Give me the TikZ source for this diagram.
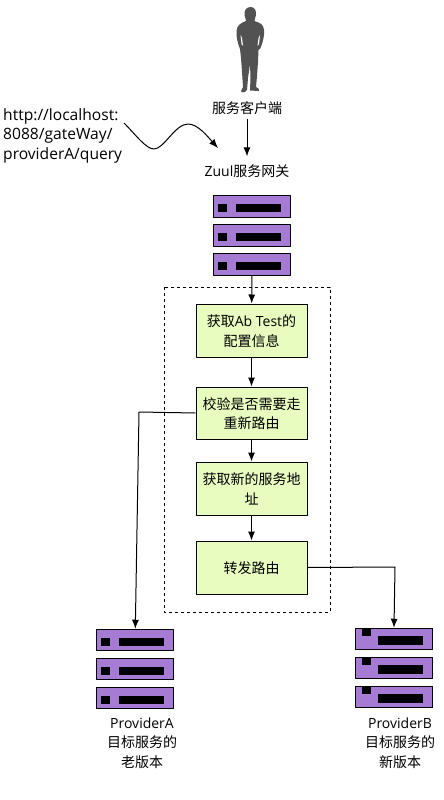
\documentclass[tikz,border=0pt]{standalone}
\usepackage{fontspec}
\setmainfont{Noto Sans CJK SC}
\newfontfamily\latinfont{Open Sans}
\usetikzlibrary{arrows.meta}
\definecolor{rackfill}{HTML}{A67BD4}
\definecolor{stepfill}{HTML}{E8FCC0}
\tikzset{
  txt/.style={align=center,inner sep=0pt,font=\fontsize{14}{19.5}\selectfont},
  stepbox/.style={draw,line width=1pt,fill=stepfill,minimum width=111pt,inner sep=0pt,align=center,text depth=0pt,font=\fontsize{14}{19.5}\selectfont},
  link/.style={-{Latex[length=9pt,width=7pt]},line width=1pt},
  rackA/.pic={
    \node[draw,line width=1pt,fill=rackfill,minimum width=77pt,minimum height=21.5pt,inner sep=0pt] (-body) at (0,0) {};
    \fill (-34,-2.5) rectangle (-25,5.5);
    \fill (-16,-2.5) rectangle (29,5.5);
  },
  rackB/.pic={
    \node[draw,line width=1pt,fill=rackfill,minimum width=77pt,minimum height=21.5pt,inner sep=0pt] (-body) at (0,0) {};
    \fill (-32,-11) rectangle (-23,-3);
    \fill (-16,-3) rectangle (29,5.5);
  },
}
\begin{document}
\begin{tikzpicture}[x=1pt,y=-1pt,line join=round]
  \useasboundingbox (0,0) rectangle (444,800);
  % person
  \fill[black!68] (250.5,7) ..controls (255,7) and (256.5,11) .. (256,15)
    ..controls (255.5,18) and (254.5,19) .. (254.5,21)
    ..controls (260,23) and (263.5,24) .. (264,30)
    ..controls (264.5,36) and (263,42) .. (260.5,48)
    -- (258.5,50) -- (258,62) -- (257,76) -- (256,87)
    ..controls (258,88) and (260,89) .. (259,91)
    -- (250,90.5) -- (250.5,78) -- (250,64) -- (248,78) -- (247,90)
    ..controls (245,93) and (241,93) .. (241,91)
    -- (243,87) -- (242,72) -- (241,58) -- (240,49)
    ..controls (238,44) and (236,37) .. (236.5,31)
    ..controls (237,25) and (241,23) .. (246,21)
    ..controls (246,19) and (245,18) .. (244.5,15)
    ..controls (244,11) and (246,7) .. cycle;
  \fill[white] (240.5,35) -- (241.5,44) -- (243,46) -- (242,38) -- cycle;
  \fill[white] (260,35) -- (259,44) -- (257.5,46) -- (258.5,38) -- cycle;
  % labels
  \node[txt] (client) at (247,108) {服务客户端};
  \node[txt] (gateway) at (247,171) {{\latinfont Zuul}服务网关};
  \node[txt,align=left,anchor=north west,font=\latinfont\fontsize{15.6}{19.5}\selectfont] (url) at (3,108) {http://localhost:\\8088/gateWay/\\providerA/query};
  \coordinate (urlend) at (124,123);
  \coordinate (urltip) at (218,148);
  \draw[link] (urlend) ..controls (136,135) and (146,149) .. (154,149)
    ..controls (164,149) and (175,124) .. (188,124)
    ..controls (198,124) and (208,137) .. (urltip);
  \draw[link,shorten <=4pt,shorten >=8pt] (client) -- (gateway);
  % gateway racks
  \path (252,206.5) pic (gw1) {rackA} (252,235.5) pic (gw2) {rackA} (252,264.5) pic (gw3) {rackA};
  % filter
  \draw[dashed,line width=.8pt] (164,287) rectangle (330,612);
  \node[stepbox,minimum height=53pt] (s1) at (251.5,330.5) {获取{\latinfont Ab Test}的\\配置信息};
  \node[stepbox,minimum height=52pt] (s2) at (251.5,413) {校验是否需要走\\重新路由};
  \node[stepbox,minimum height=53pt] (s3) at (251.5,488.5) {获取新的服务地\\址};
  \node[stepbox,minimum height=53pt] (s4) at (251.5,567.5) {转发路由};
  \draw[link] (gw3-body) -- (s1);
  \draw[link] (s1) -- (s2);
  \draw[link] (s2) -- (s3);
  \draw[link] (s3) -- (s4);
  % providers
  \path (135.3,640) pic (pa1) {rackA} (135.3,669) pic (pa2) {rackA} (135.3,698) pic (pa3) {rackA};
  \path (394,639) pic (pb1) {rackB} (394,668) pic (pb2) {rackB} (394,697) pic (pb3) {rackB};
  \node[txt] (pa) at (142,743) {{\latinfont ProviderA}\\目标服务的\\老版本};
  \node[txt] (pb) at (400,743) {{\latinfont ProviderB}\\目标服务的\\新版本};
  \draw[link] (s2.west) -- (139,412) -- (pa1-body.north);
  \draw[link] (s4.east) -- (395,567) -- (pb1-body.north);
\end{tikzpicture}
\end{document}
